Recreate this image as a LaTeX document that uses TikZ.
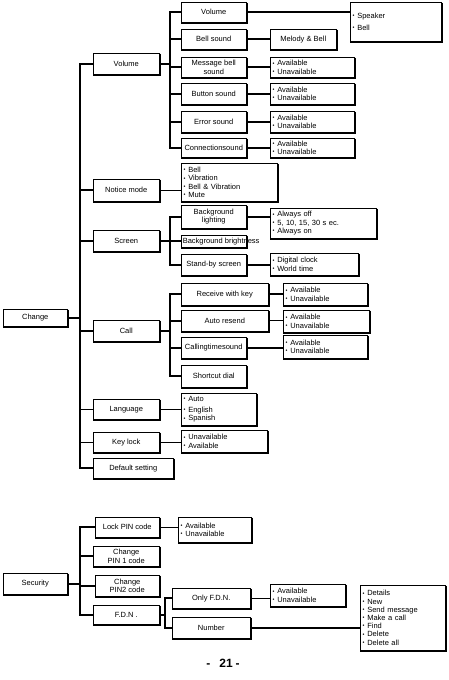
\documentclass[tikz,border=0pt]{standalone}
\usepackage{fontspec}
\setmainfont{Liberation Sans}
\newcommand\fs{\fontsize{7.5}{8.2}\selectfont}
\newcommand\bu{\makebox[4.8pt][l]{\raisebox{0.7pt}{\fontsize{5.5}{5.5}\selectfont•}}}
\tikzset{
  bx/.style={draw, fill=white, line width=0.8pt, inner xsep=2pt, inner ysep=1pt, align=center, font=\fs},
  shd/.style={line width=1.8pt, line join=miter},
  ln/.style={line width=1.8pt},
  lm/.style={line width=1.2pt},
  lt/.style={line width=0.8pt},
  sp/.style={line width=1.8pt, line cap=rect}
}
% box: [opts]{name}{x1}{y1}{x2}{y2}{text}
\newcommand\B[7][]{%
  \pgfmathsetmacro\Bw{#5-#3-1.5}%
  \pgfmathsetmacro\Bh{#6-#4-1.5}%
  \pgfmathsetmacro\Bcx{(#3+#5-1.5)/2}%
  \pgfmathsetmacro\Bcy{(#4+#6-1.5)/2}%
  \node[bx, minimum width=\Bw pt, minimum height=\Bh pt, #1] (#2) at (\Bcx,\Bcy) {#7};%
  \draw[shd] ([shift={(0.6,0.9)}]#2.north east) -- ([shift={(0.6,0.6)}]#2.south east) -- ([shift={(0.1,0.6)}]#2.south west);%
}
\newcommand\Lb[7][]{%
  \pgfmathsetmacro\Bw{#5-#3-1.5}%
  \pgfmathsetmacro\Btw{#5-#3-1.5-5}%
  \pgfmathsetmacro\Bh{#6-#4-1.5}%
  \pgfmathsetmacro\Bcx{(#3+#5-1.5)/2}%
  \pgfmathsetmacro\Bcy{(#4+#6-1.5)/2}%
  \node[bx, align=left, text width=\Btw pt, minimum width=\Bw pt, minimum height=\Bh pt, #1] (#2) at (\Bcx,\Bcy) {#7};%
  \draw[shd] ([shift={(0.6,0.9)}]#2.north east) -- ([shift={(0.6,0.6)}]#2.south east) -- ([shift={(0.1,0.6)}]#2.south west);%
}
\newcommand\AU{\bu Available\\\bu Unavailable}
\begin{document}
\begin{tikzpicture}[x=1pt,y=-1pt]
\useasboundingbox (0,0) rectangle (449,680);
\coordinate (T) at (80,0);
\coordinate (S) at (170,0);
\coordinate (F) at (165,0);

% ---------- Change ----------
\B{chg}{3}{309}{69}{328}{Change}
\B{v1}{93}{53}{161}{76}{Volume}
\B{nm}{93}{179}{161}{203}{Notice mode}
\B{sc}{93}{230}{161}{253}{Screen}
\B{cl}{93}{320}{161}{343}{Call}
\B{lang}{93}{399}{161}{421}{Language}
\B{kl}{93}{432}{161}{454}{Key lock}
\B{def}{93}{458}{175}{480}{Default setting}

\B{v2}{181}{2}{248}{24}{Volume}
\B{bs}{181}{29}{248}{51}{Bell sound}
\B{mbs}{181}{57}{248}{79}{Message bell\\sound}
\B{bts}{181}{83}{248}{106}{Button sound}
\B{es}{181}{111}{248}{134}{Error sound}
\B{cs}{181}{138}{248}{159}{Connectionsound}

\Lb{spk}{350}{2}{443}{43}{\bu Speaker\\[4pt]\bu Bell}
\B{mel}{270}{29}{338}{51}{Melody \& Bell}
\Lb{a1}{270}{57}{356}{79}{\AU}
\Lb{a2}{270}{83}{356}{106}{\AU}
\Lb{a3}{270}{111}{356}{134}{\AU}
\Lb{a4}{270}{138}{356}{159}{\AU}

\Lb{nms}{181}{163}{279}{203}{\bu Bell\\\bu Vibration\\\bu Bell \& Vibration\\\bu Mute}

\B{bl}{181}{205}{248}{230}{Background\\lighting}
\B[inner xsep=1pt]{bb}{181}{235}{248}{249}{\makebox[62pt][l]{Background brightness}}
\B{ss}{181}{254}{248}{277}{Stand-by screen}
\Lb{als}{270}{208}{378}{240}{\bu Always off\\\bu 5, 10, 15, 30 s ec.\\\bu Always on}
\Lb{dcs}{270}{253}{360}{277}{\bu Digital clock\\\bu World time}

\B{rk}{181}{283}{270}{307}{Receive with key}
\B{ar}{181}{310}{270}{333}{Auto resend}
\B{cts}{181}{337}{248}{360}{Callingtimesound}
\B{sd}{181}{365}{248}{389}{Shortcut dial}
\Lb{rks}{283}{283}{369}{307}{\AU}
\Lb{ars}{283}{310}{371}{334}{\AU}
\Lb{ctss}{283}{335}{369}{360}{\AU}

\Lb{langs}{181}{393}{258}{427}{\bu Auto\\[3pt]\bu English\\\bu Spanish}
\Lb{kls}{181}{430}{269}{454}{\bu Unavailable\\\bu Available}

% connectors
\draw[ln] (chg.east) -- (chg.east -| T);
\draw[sp] (T |- v1.west) -- (T |- def.west);
\foreach \n in {v1,nm,sc,cl,def} \draw[ln] (T |- \n.west) -- (\n.west);
\foreach \n in {lang,kl} \draw[lm] (T |- \n.west) -- (\n.west);

\draw[ln] (v1.east) -- (v1.east -| S);
\draw[sp] (S |- v2.west) -- (S |- cs.west);
\foreach \n in {v2,bs,mbs,bts,es,cs} \draw[ln] (S |- \n.west) -- (\n.west);
\draw[ln] (v2.east) -- (v2.east -| spk.west);
\draw[ln] (bs.east) -- (mel.west);
\draw[ln] (mbs.east) -- (mbs.east -| a1.west);
\draw[ln] (bts.east) -- (bts.east -| a2.west);
\draw[ln] (es.east) -- (es.east -| a3.west);
\draw[ln] (cs.east) -- (cs.east -| a4.west);

\draw[lt] (nm.east) -- (nm.east -| nms.west);

\draw[ln] (sc.east) -- (sc.east -| S);
\draw[sp] (S |- bl.west) -- (S |- ss.west);
\foreach \n in {bl,bb,ss} \draw[ln] (S |- \n.west) -- (\n.west);
\draw[ln] (bl.east) -- (bl.east -| als.west);
\draw[ln] (ss.east) -- (ss.east -| dcs.west);

\draw[ln] (cl.east) -- (cl.east -| S);
\draw[sp] (S |- rk.west) -- (S |- sd.west);
\foreach \n in {rk,ar,cts,sd} \draw[ln] (S |- \n.west) -- (\n.west);
\draw[ln] (rk.east) -- (rk.east -| rks.west);
\draw[lt] (ar.east) -- (ar.east -| ars.west);
\draw[ln] (cts.east) -- (cts.east -| ctss.west);

\draw[lt] (lang.east) -- (lang.east -| langs.west);
\draw[lt] (kl.east) -- (kl.east -| kls.west);

% ---------- Security ----------
\B{sec}{3}{573}{69}{596}{Security}
\B{lp}{95}{517}{161}{539}{Lock PIN code}
\B{p1}{93}{546}{161}{568}{Change\\PIN 1 code}
\B{p2}{95}{575}{161}{598}{Change\\PIN2 code}
\B{fdn}{93}{605}{161}{626}{F.D.N .}
\Lb{lps}{178}{517}{253}{544}{\AU}
\B{of}{172}{588}{252}{610}{Only F.D.N.}
\B{num}{172}{617}{252}{640}{Number}
\Lb{ofs}{270}{584}{347}{608}{\AU}
\Lb{nums}{360}{585}{447}{652}{\bu Details\\\bu New\\\bu Send message\\\bu Make a call\\\bu Find\\\bu Delete\\\bu Delete all}

\draw[ln] (sec.east) -- (sec.east -| T);
\draw[sp] (T |- lp.west) -- (T |- fdn.west);
\foreach \n in {lp,p1,p2,fdn} \draw[ln] (T |- \n.west) -- (\n.west);
\draw[lt] (lp.east) -- (lp.east -| lps.west);
\draw[ln] (fdn.east) -- (fdn.east -| F);
\draw[sp] (F |- of.west) -- (F |- num.west);
\foreach \n in {of,num} \draw[ln] (F |- \n.west) -- (\n.west);
\draw[lt] (of.east) -- (of.east -| ofs.west);
\draw[ln] (num.east) -- (num.east -| nums.west);

\node[font=\fontsize{12}{14}\selectfont\bfseries] (pg) at (223,663) {-\hspace{9pt}21\hspace{3pt}-};
\end{tikzpicture}
\end{document}
